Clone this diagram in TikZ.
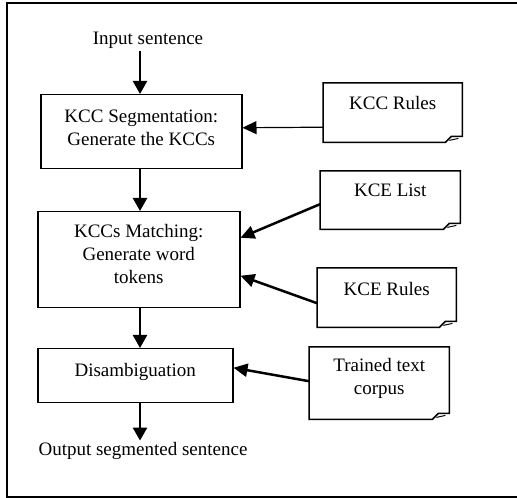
\documentclass[tikz,border=0pt]{standalone}
\usepackage{fontspec}
\setmainfont{Liberation Serif}
\usetikzlibrary{arrows.meta}
\tikzset{
  txt/.style={font=\fontsize{19}{22}\selectfont, inner sep=2pt},
  procbox/.style={draw, line width=1.5pt, inner sep=0pt, anchor=north west, font=\fontsize{19}{23}\selectfont},
  notebox/.style={inner sep=0pt, anchor=north west, font=\fontsize{19}{23}\selectfont},
  flow/.style={line width=2.5pt, -{Triangle[length=13pt,width=14pt]}},
  feed/.style={line width=2.5pt, -{Triangle[length=14pt,width=13pt]}},
  thinfeed/.style={line width=1.2pt, -{Triangle[length=14pt,width=13pt]}},
  fold/.style={line width=1.5pt},
}
\newcommand\ntext[4]{\parbox[c][#2pt][t]{#1pt}{\centering\vspace*{#3pt}#4}}
\newcommand\drawnote[1]{%
  \draw[fold] (#1.north west) -- (#1.north east) -- ([yshift=6pt]#1.south east)
    -- ([xshift=-11pt,yshift=6pt]#1.south east) -- ([xshift=-17pt]#1.south east)
    -- (#1.south west) -- cycle;
  \draw[line width=1pt] ([xshift=-4pt,yshift=4pt]#1.south east) -- ([xshift=-13pt,yshift=2pt]#1.south east);}
\begin{document}
\begin{tikzpicture}[x=1pt,y=1pt]
  \useasboundingbox (0,0) rectangle (517,498);
  \fill[white] (0,0) rectangle (517,498);
  % frame (right side runs off the picture)
  \draw[line width=1.5pt] (520,495) -- (7,495) -- (7,1) -- (520,1);
  \coordinate (spine) at (140,0);

  \node[txt, anchor=base] (input) at (148,453) {Input sentence};
  \node[procbox] (seg) at (40,404) {\ntext{201}{74}{15}{KCC Segmentation:\\Generate the KCCs}};
  \node[procbox] (match) at (37,287) {\ntext{202}{96}{13}{KCCs Matching:\\Generate word\\tokens}};
  \node[procbox] (disamb) at (37,150) {\ntext{195}{54}{15}{Disambiguation}};
  \node[txt, anchor=base] (output) at (143,42) {Output segmented sentence};

  \node[notebox] (kccrules) at (323,415) {\ntext{139}{59}{13}{KCC Rules}};
  \node[notebox] (kcelist) at (320,327) {\ntext{140}{58}{13}{KCE List}};
  \node[notebox] (kcerules) at (317,230) {\ntext{139}{59}{14}{KCE Rules}};
  \node[notebox] (trained) at (309,151) {\ntext{140}{72}{11}{Trained text\\corpus}};
  \drawnote{kccrules}
  \drawnote{kcelist}
  \drawnote{kcerules}
  \drawnote{trained}

  \draw[flow] (input.south -| spine) -- (seg.north -| spine);
  \draw[flow] (seg.south -| spine) -- (match.north -| spine);
  \draw[flow] (match.south -| spine) -- (disamb.north -| spine);
  \draw[flow] (disamb.south -| spine) -- (output.north -| spine);

  \draw[thinfeed] ([yshift=-14.5pt]kccrules.west) -- ([yshift=4pt]seg.east);
  \draw[feed] ([yshift=-4pt]kcelist.west) -- ([yshift=22pt]match.east);
  \draw[feed] ([yshift=-5.5pt]kcerules.west) -- ([yshift=-16pt]match.east);
  \draw[feed] ([yshift=2pt]trained.west) -- ([yshift=8pt]disamb.east);
\end{tikzpicture}
\end{document}
